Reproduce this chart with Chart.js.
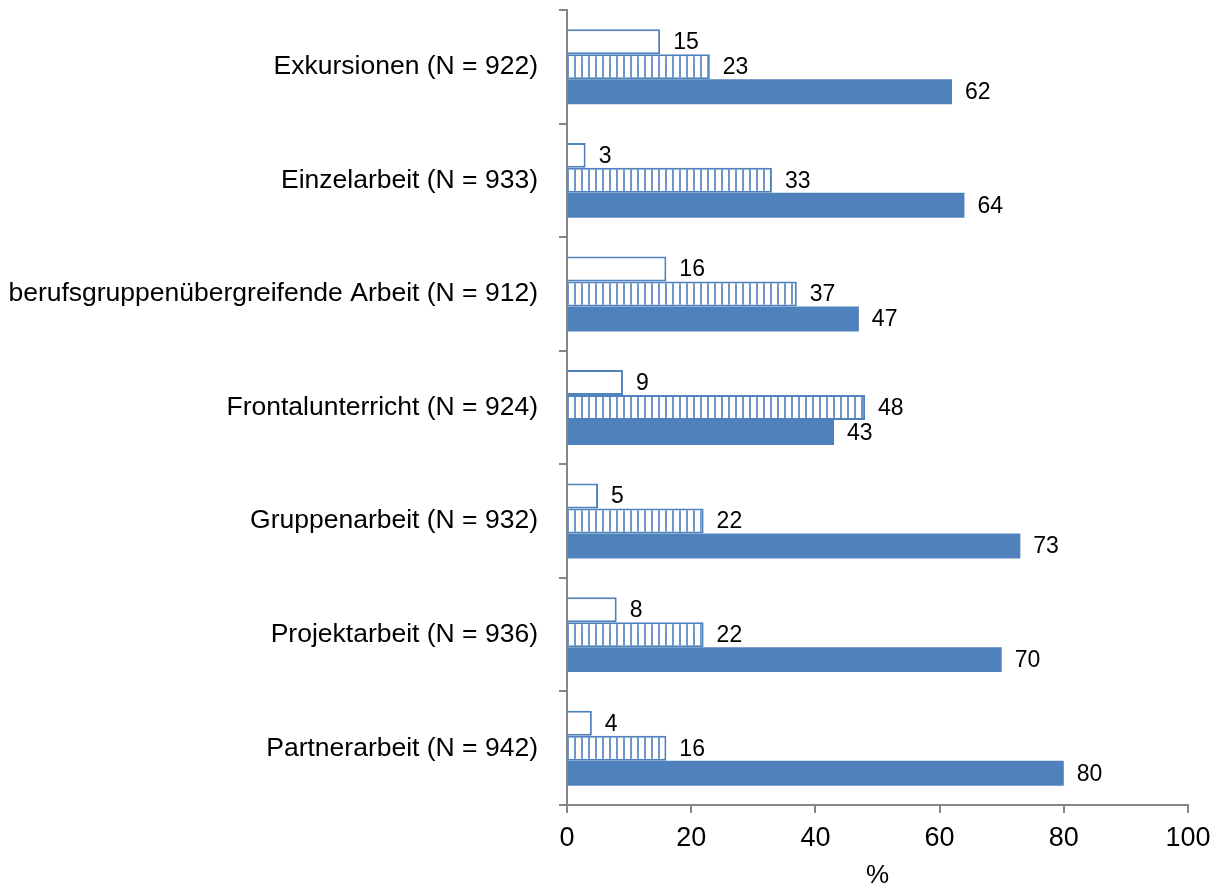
<!DOCTYPE html>
<html>
<head>
<meta charset="utf-8">
<script src="https://cdn.jsdelivr.net/npm/chart.js@4"></script>
<style>
  html, body { margin: 0; padding: 0; background: #fff; }
  canvas { display: block; }
</style>
</head>
<body>
<canvas id="methods" width="1221" height="886"></canvas>
<script>
const categories = [
  'Exkursionen (N = 922)',
  'Einzelarbeit (N = 933)',
  'berufsgruppenübergreifende Arbeit (N = 912)',
  'Frontalunterricht (N = 924)',
  'Gruppenarbeit (N = 932)',
  'Projektarbeit (N = 936)',
  'Partnerarbeit (N = 942)'
]
const outlineValues = [15, 3, 16, 9, 5, 8, 4]
const hatchedValues = [23, 33, 37, 48, 22, 22, 16]
const solidValues = [62, 64, 47, 43, 73, 70, 80]
const xTicks = [0, 20, 40, 60, 80, 100]

const blue = '#4F81BD'
const axisGrey = '#868686'
const fontFamily = "'Liberation Sans', Arial, sans-serif"

// vertical stripes for the middle bar
function stripes() {
  const c = document.createElement('canvas')
  c.width = 7
  c.height = 7
  const g = c.getContext('2d')
  g.fillStyle = '#fff'
  g.fillRect(0, 0, 7, 7)
  g.fillStyle = '#6F96C9'
  g.fillRect(0, 0, 2, 7)
  return g.createPattern(c, 'repeat')
}

const valueLabels = {
  id: 'valueLabels',
  afterDatasetsDraw(chart) {
    const ctx = chart.ctx
    ctx.save()
    ctx.font = '23px ' + fontFamily
    ctx.fillStyle = '#000'
    ctx.textAlign = 'left'
    ctx.textBaseline = 'middle'
    chart.data.datasets.forEach((ds, i) => {
      chart.getDatasetMeta(i).data.forEach((bar, j) => {
        ctx.fillText(String(ds.data[j]), bar.x + 13, bar.y + 1)
      })
    })
    ctx.restore()
  }
}

const ctx = document.getElementById('methods')
new Chart(ctx, {
  type: 'bar',
  data: {
    labels: categories,
    datasets: [
      {
        data: outlineValues,
        backgroundColor: '#fff',
        borderColor: blue,
        borderWidth: 2
      },
      {
        data: hatchedValues,
        backgroundColor: stripes(),
        borderColor: blue,
        borderWidth: 2
      },
      {
        data: solidValues,
        backgroundColor: blue,
        borderWidth: 0
      }
    ]
  },
  options: {
    indexAxis: 'y',
    responsive: false,
    devicePixelRatio: 1,
    animation: false,
    layout: { padding: { top: 10, right: 33, left: 0, bottom: 0 } },
    datasets: {
      bar: { categoryPercentage: 0.66, barPercentage: 1 }
    },
    plugins: {
      legend: { display: false },
      tooltip: { enabled: false }
    },
    scales: {
      x: {
        min: 0,
        max: 100,
        afterBuildTicks: scale => {
          scale.ticks = xTicks.map(v => ({ value: v }))
        },
        afterFit: scale => {
          scale.height = 81
          scale.paddingLeft = 0
          scale.paddingRight = 0
        },
        grid: {
          drawOnChartArea: false,
          tickLength: 8,
          color: axisGrey,
          lineWidth: 2
        },
        border: { color: axisGrey, width: 2 },
        ticks: {
          color: '#000',
          padding: 9,
          font: { family: fontFamily, size: 27 }
        },
        title: {
          display: true,
          text: '%',
          color: '#000',
          padding: 0,
          font: { family: fontFamily, size: 26, lineHeight: 0.8 }
        }
      },
      y: {
        afterFit: scale => {
          scale.width = 567
          scale.paddingTop = 0
          scale.paddingBottom = 0
        },
        grid: {
          drawOnChartArea: false,
          offset: true,
          tickLength: 8,
          color: axisGrey,
          lineWidth: 2
        },
        border: { color: axisGrey, width: 2 },
        ticks: {
          color: '#000',
          padding: 21,
          font: { family: fontFamily, size: 26.5 }
        }
      }
    }
  },
  plugins: [valueLabels]
})
</script>
</body>
</html>
